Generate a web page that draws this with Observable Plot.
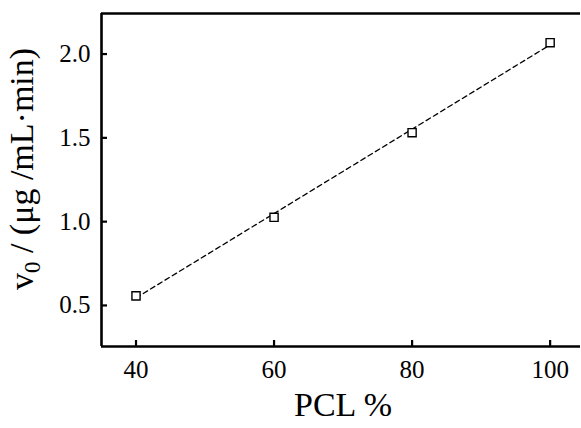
<!DOCTYPE html>
<html>
<head>
<meta charset="utf-8">
<script src="https://cdn.jsdelivr.net/npm/d3@7"></script>
<script src="https://cdn.jsdelivr.net/npm/@observablehq/plot@0.6"></script>
<style>
  html, body { margin: 0; padding: 0; background: #fff; }
  svg { display: block; }
  g[aria-label$="tick label"] text { font-size: 25px !important; font-family: 'Liberation Serif', 'Times New Roman', serif !important; }
</style>
</head>
<body>
<div id="chart"></div>
<script>
// Data
const pcl = [40, 60, 80, 100];
const v0 = [0.557, 1.026, 1.531, 2.068];
// dashed linear fit end values
const fitX = [40, 100];
const fitY = [0.545, 2.055];
// axes
const xTicks = [40, 60, 80, 100];
const yTicks = [0.5, 1.0, 1.5, 2.0];
const xDomain = [35, 104.4];
const yDomain = [0.255, 2.242];
const xTitle = "PCL %";
const yTitleMain = "v";
const yTitleSub = "0";
const yTitleRest = " / (μg /mL·min)";

const points = pcl.map((x, i) => ({x, y: v0[i]}));
const fit = fitX.map((x, i) => ({x, y: fitY[i]}));

const font = "'Liberation Serif', 'Times New Roman', serif";

const chart = Plot.plot({
  width: 581,
  height: 428,
  marginLeft: 101,
  marginRight: 1,
  marginTop: 13,
  marginBottom: 82,
  style: {fontFamily: font, fontSize: "24px", background: "#fff", color: "#000"},
  x: {domain: xDomain, ticks: xTicks},
  y: {domain: yDomain, ticks: yTicks},
  marks: [
    // frame lines
    Plot.ruleX([xDomain[0]], {stroke: "#000", strokeWidth: 2.6}),
    Plot.ruleY([yDomain[0]], {stroke: "#000", strokeWidth: 2.6}),
    Plot.ruleY([yDomain[1]], {stroke: "#000", strokeWidth: 2.4}),
    // inward ticks
    Plot.axisX(xTicks, {tickSize: 6, dy: -6, tickFormat: () => "", strokeWidth: 2.2, label: null}),
    Plot.axisY(yTicks, {tickSize: 6, dx: 6, tickFormat: () => "", strokeWidth: 2.2, label: null}),
    // tick labels
    Plot.axisX(xTicks, {tickSize: 0, tickPadding: 14, fontSize: 25, label: null, tickFormat: d => String(d)}),
    Plot.axisY(yTicks, {tickSize: 0, tickPadding: 11, fontSize: 25, label: null, tickFormat: d3.format(".1f")}),
    // fit line
    Plot.line(fit, {x: "x", y: "y", stroke: "#000", strokeWidth: 1.3, strokeDasharray: "5,3.5"}),
    // points
    Plot.dot(points, {x: "x", y: "y", symbol: "square", r: 4.6, stroke: "#000", fill: "#fff", strokeWidth: 1.4})
  ]
});

const svg = d3.select(chart);

svg.append("text")
  .attr("x", 343).attr("y", 416)
  .attr("text-anchor", "middle")
  .attr("font-size", 34)
  .attr("font-family", font)
  .attr("fill", "#000")
  .text(xTitle);

const yt = svg.append("text")
  .attr("transform", "translate(33,169) rotate(-90)")
  .attr("text-anchor", "middle")
  .attr("font-size", 34)
  .attr("font-family", font)
  .attr("fill", "#000");
yt.append("tspan").text(yTitleMain);
yt.append("tspan").attr("font-size", 23).attr("dy", 7).text(yTitleSub);
yt.append("tspan").attr("dy", -7).text(yTitleRest);

document.getElementById("chart").appendChild(chart);
</script>
</body>
</html>
